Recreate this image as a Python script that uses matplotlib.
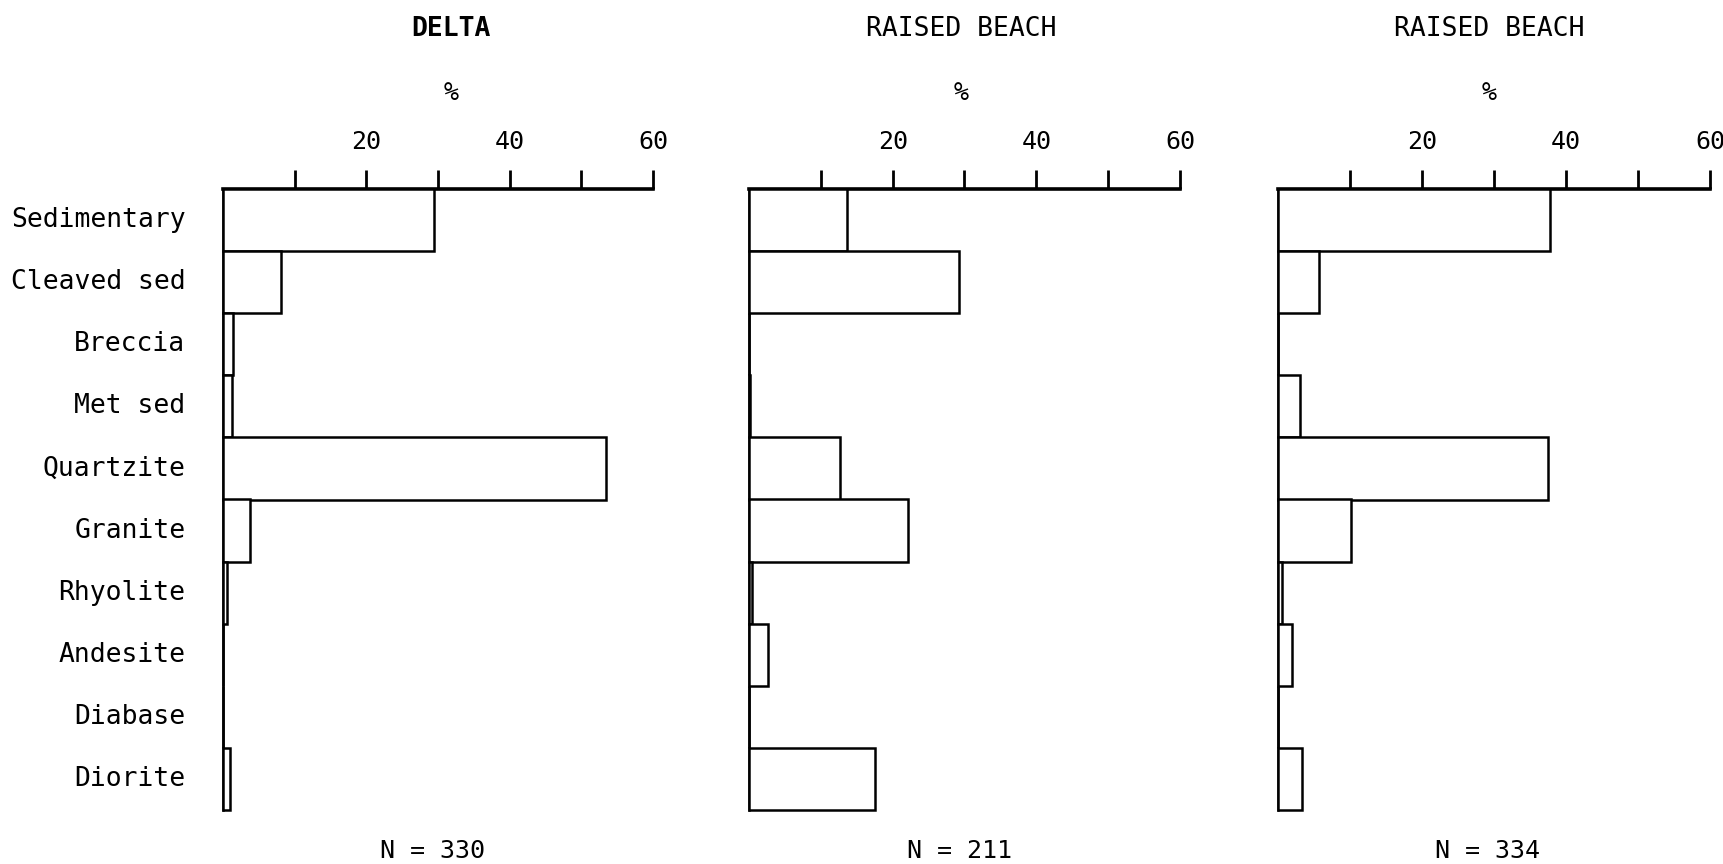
import matplotlib
matplotlib.use("Agg")
import matplotlib.pyplot as plt

# Clast lithology counts, percent of sample
rock_types = ["Sedimentary", "Cleaved sed", "Breccia", "Met sed", "Quartzite",
              "Granite", "Rhyolite", "Andesite", "Diabase", "Diorite"]
delta_pct = [29.5, 8.1, 1.4, 1.3, 53.5, 3.8, 0.5, 0.0, 0.0, 1.0]
beach1_pct = [13.6, 29.3, 0.0, 0.2, 12.6, 22.2, 0.4, 2.6, 0.0, 17.5]
beach2_pct = [37.8, 5.7, 0.0, 3.1, 37.5, 10.2, 0.6, 2.0, 0.0, 3.4]
panel_titles = ["DELTA", "RAISED BEACH", "RAISED BEACH"]
sample_sizes = [330, 211, 334]
tick_values = [10, 20, 30, 40, 50, 60]
tick_labels = ["", "20", "", "40", "", "60"]

plt.rcParams["font.family"] = ["DejaVu Sans Mono", "DejaVu Sans"]

W, H = 1724, 864
fig = plt.figure(figsize=(W / 100, H / 100), dpi=100)
fig.patch.set_facecolor("white")

# panel geometry in pixels: left edge, right edge (0 % to 60 %)
panel_px = [(223, 653), (749, 1180), (1278, 1710)]
top_px, bottom_px = 189, 810
title_x_px = [451, 961, 1489]
n_x_px = [433, 960, 1488]

series = [delta_pct, beach1_pct, beach2_pct]
fs = 18

for i, (vals, (x0, x1)) in enumerate(zip(series, panel_px)):
    ax = fig.add_axes([x0 / W, 1 - bottom_px / H, (x1 - x0) / W,
                       (bottom_px - top_px) / H])
    ypos = list(range(len(rock_types)))
    bars = ax.barh(ypos, vals, height=1.0, color="white", edgecolor="black",
                   linewidth=1.8, zorder=3)
    for b in bars:
        b.set_clip_on(False)
    ax.set_xlim(0, 60)
    ax.set_ylim(len(rock_types) - 0.5, -0.5)

    for side in ("right", "bottom"):
        ax.spines[side].set_visible(False)
    ax.spines["top"].set_linewidth(2.6)
    ax.spines["left"].set_linewidth(1.8)

    ax.xaxis.set_ticks_position("top")
    ax.set_xticks(tick_values)
    ax.set_xticklabels(tick_labels, fontsize=fs)
    ax.tick_params(axis="x", direction="out", length=14, width=2.0, pad=11)

    if i == 0:
        ax.set_yticks(ypos)
        ax.set_yticklabels(rock_types, fontsize=19)
        ax.tick_params(axis="y", length=0, pad=27)
        for lab in ax.get_yticklabels():
            lab.set_va("center")
    else:
        ax.set_yticks([])

    fig.text(title_x_px[i] / W, 1 - 29 / H, panel_titles[i], ha="center",
             va="center", fontsize=19,
             fontweight="bold" if i == 0 else "normal")
    fig.text(title_x_px[i] / W, 1 - 93 / H, "%", ha="center", va="center",
             fontsize=fs)
    fig.text(n_x_px[i] / W, 1 - 851 / H, f"N = {sample_sizes[i]}",
             ha="center", va="center", fontsize=fs)

fig.savefig("out.png", dpi=100, facecolor="white")
